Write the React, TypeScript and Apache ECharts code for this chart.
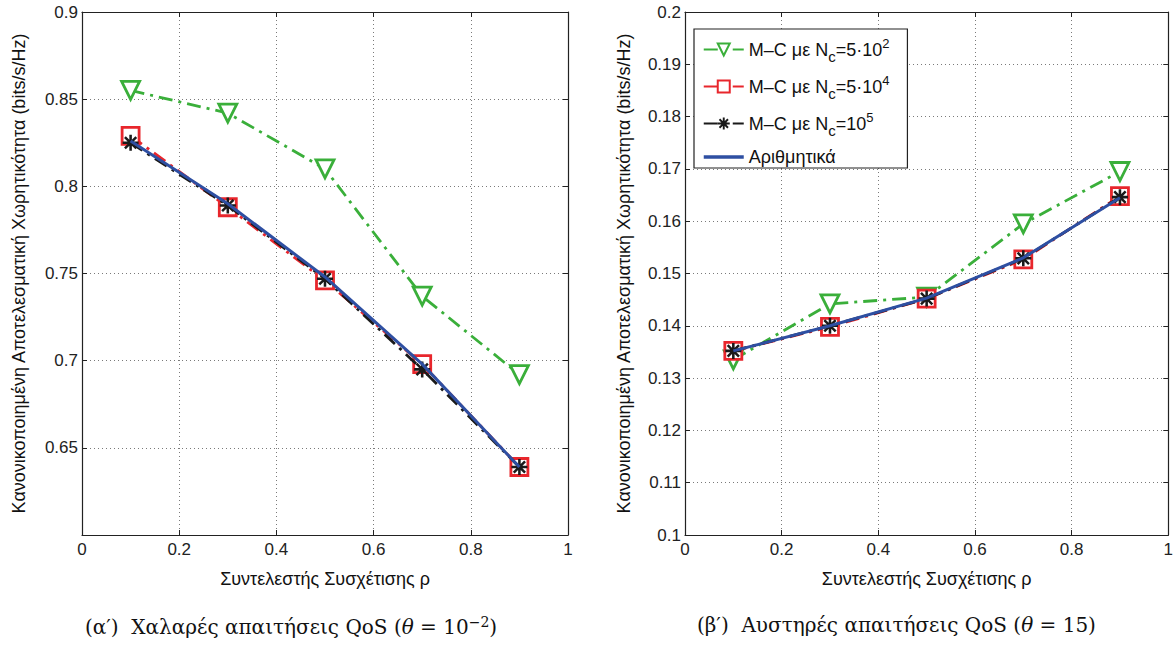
import React, { useEffect, useRef } from "react";
import * as echarts from "echarts";

const rho = [0.1, 0.3, 0.5, 0.7, 0.9];

// Left panel (θ = 10^-2)
const leftMC500 = [0.855, 0.842, 0.81, 0.737, 0.692];
const leftMC5e4 = [0.829, 0.788, 0.746, 0.698, 0.639];
const leftMC1e5 = [0.825, 0.789, 0.747, 0.695, 0.639];
const leftNum = [0.826, 0.790, 0.748, 0.698, 0.639];

// Right panel (θ = 15)
const rightMC500 = [0.1335, 0.1442, 0.1455, 0.1595, 0.1695];
const rightMC5e4 = [0.1352, 0.1398, 0.1452, 0.1527, 0.1648];
const rightMC1e5 = [0.1352, 0.1400, 0.1452, 0.1529, 0.1646];
const rightNum = [0.1352, 0.1400, 0.1453, 0.1530, 0.1645];

const NAMES = ["mc500", "mc5e4", "mc1e5", "num"];
const LEGEND_TEXT: Record<string, string> = {
  mc500: "M–C με N{sub|c}=5·10{sup|2}",
  mc5e4: "M–C με N{sub|c}=5·10{sup|4}",
  mc1e5: "M–C με N{sub|c}=10{sup|5}",
  num: "Αριθμητικά",
};

const GREEN = "#3aaf3a";
const RED = "#e8262c";
const BLACK = "#1a1a1a";
const BLUE = "#2e4fa2";
const FONT = "'Liberation Sans', Arial, sans-serif";
const SERIF = "'DejaVu Serif', 'Liberation Serif', serif";

const ASTERISK =
  "path://M-1 -0.16 L1 -0.16 L1 0.16 L-1 0.16 Z " +
  "M-0.16 -1 L0.16 -1 L0.16 1 L-0.16 1 Z " +
  "M-0.82 -0.6 L-0.6 -0.82 L0.82 0.6 L0.6 0.82 Z " +
  "M-0.6 0.82 L-0.82 0.6 L0.6 -0.82 L0.82 -0.6 Z";

const pairs = (ys: number[]) => rho.map((x, i) => [x, ys[i]]);

function makeSeries(xi: number, yi: number, d: number[][]) {
  const dash = [14, 6, 3, 6];
  return [
    {
      name: NAMES[0], type: "line", xAxisIndex: xi, yAxisIndex: yi, data: pairs(d[0]),
      symbol: "triangle", symbolRotate: 180, symbolSize: 18,
      lineStyle: { color: GREEN, width: 2.8, type: dash },
      itemStyle: { color: "#fff", borderColor: GREEN, borderWidth: 2.8 },
      z: 2,
    },
    {
      name: NAMES[1], type: "line", xAxisIndex: xi, yAxisIndex: yi, data: pairs(d[1]),
      symbol: "rect", symbolSize: 17,
      lineStyle: { color: RED, width: 2.8, type: dash },
      itemStyle: { color: "#fff", borderColor: RED, borderWidth: 2.8 },
      z: 3,
    },
    {
      name: NAMES[2], type: "line", xAxisIndex: xi, yAxisIndex: yi, data: pairs(d[2]),
      symbol: ASTERISK, symbolSize: 16,
      lineStyle: { color: BLACK, width: 2.8, type: dash },
      itemStyle: { color: BLACK, borderWidth: 0 },
      z: 4,
    },
    {
      name: NAMES[3], type: "line", xAxisIndex: xi, yAxisIndex: yi, data: pairs(d[3]),
      symbol: "none", showSymbol: false,
      lineStyle: { color: BLUE, width: 3 },
      itemStyle: { color: BLUE },
      z: 5,
    },
  ];
}

function xAxes(gi: number) {
  const common = {
    type: "value", gridIndex: gi, min: 0, max: 1, interval: 0.2,
    axisLine: { show: true, onZero: false, lineStyle: { color: "#222", width: 1.2 } },
    axisTick: { show: true, inside: true, length: 5, lineStyle: { color: "#222" } },
  };
  return [
    {
      ...common, position: "bottom",
      axisLabel: { color: "#222", fontFamily: FONT, fontSize: 17, margin: 6,
        formatter: (v: number) => String(+v.toFixed(1)) },
      splitLine: { show: true, lineStyle: { color: "#7a7a7a", type: [1, 3], width: 1 } },
      name: "Συντελεστής Συσχέτισης ρ", nameLocation: "middle", nameGap: 35,
      nameTextStyle: { color: "#111", fontFamily: FONT, fontSize: 18 },
    },
    { ...common, position: "top", axisLabel: { show: false }, splitLine: { show: false } },
  ];
}

function yAxes(gi: number, min: number, max: number, interval: number, hideMin: boolean, gap: number) {
  const common = {
    type: "value", gridIndex: gi, min, max, interval,
    axisLine: { show: true, onZero: false, lineStyle: { color: "#222", width: 1.2 } },
    axisTick: { show: true, inside: true, length: 5, lineStyle: { color: "#222" } },
  };
  return [
    {
      ...common, position: "left",
      axisLabel: { color: "#222", fontFamily: FONT, fontSize: 17, margin: 4,
        formatter: (v: number) => (hideMin && Math.abs(v - min) < 1e-9 ? "" : String(+v.toFixed(3))) },
      splitLine: { show: true, lineStyle: { color: "#7a7a7a", type: [1, 3], width: 1 } },
      name: "Κανονικοποιημένη Αποτελεσματική Χωρητικότητα (bits/s/Hz)",
      nameLocation: "middle", nameGap: gap, nameRotate: 90,
      nameTextStyle: { color: "#111", fontFamily: FONT, fontSize: 18 },
    },
    { ...common, position: "right", axisLabel: { show: false }, splitLine: { show: false } },
  ];
}

export default function App() {
  const ref = useRef<HTMLDivElement>(null);
  useEffect(() => {
    if (!ref.current) return;
    const chart = echarts.init(ref.current, undefined, { renderer: "svg" });
    const option: any = {
      animation: false,
      backgroundColor: "#fff",
      grid: [
        { left: 82, right: 608, top: 12, bottom: 111, containLabel: false },
        { left: 685, right: 6, top: 12, bottom: 111, containLabel: false },
      ],
      xAxis: [...xAxes(0), ...xAxes(1)],
      yAxis: [
        ...yAxes(0, 0.6, 0.9, 0.05, true, 54),
        ...yAxes(1, 0.1, 0.2, 0.01, false, 52),
      ],
      legend: {
        show: true,
        data: [
          { name: NAMES[0] },
          { name: NAMES[1] },
          { name: NAMES[2] },
          { name: NAMES[3], itemStyle: { opacity: 0 }, lineStyle: { width: 3.5 } },
        ],
        orient: "vertical",
        left: 694,
        top: 29,
        backgroundColor: "#fff",
        borderColor: "#222",
        borderWidth: 1.2,
        borderRadius: 0,
        padding: [8, 18, 2, 8],
        itemGap: 10,
        itemWidth: 40,
        itemHeight: 15,
        formatter: (n: string) => LEGEND_TEXT[n] || n,
        textStyle: {
          color: "#111", fontFamily: FONT, fontSize: 18,
          rich: {
            sub: { fontFamily: FONT, fontSize: 15, color: "#111", padding: [14, 0, 0, 0] },
            sup: { fontFamily: FONT, fontSize: 13, color: "#111", padding: [0, 0, 12, 0] },
          },
        },
      },
      series: [
        ...makeSeries(0, 0, [leftMC500, leftMC5e4, leftMC1e5, leftNum]),
        ...makeSeries(2, 2, [rightMC500, rightMC5e4, rightMC1e5, rightNum]),
      ],
      graphic: [
        {
          type: "text", left: 85, top: 615,
          style: {
            text: "(α′)  Χαλαρές απαιτήσεις QoS ({i|θ} = 10{sup|−2})",
            font: `20px ${SERIF}`, fill: "#111",
            rich: {
              i: { fontFamily: SERIF, fontSize: 20, fontStyle: "italic", fill: "#111" },
              sup: { fontFamily: SERIF, fontSize: 14, fill: "#111", padding: [0, 0, 10, 0] },
            },
          },
        },
        {
          type: "text", left: 697, top: 615,
          style: {
            text: "(β′)  Αυστηρές απαιτήσεις QoS ({i|θ} = 15)",
            font: `20px ${SERIF}`, fill: "#111",
            rich: {
              i: { fontFamily: SERIF, fontSize: 20, fontStyle: "italic", fill: "#111" },
            },
          },
        },
      ],
    };
    chart.setOption(option);
    return () => chart.dispose();
  }, []);
  return (
    <div
      ref={ref}
      style={{ position: "fixed", left: 0, top: 0, width: 1176, height: 646, background: "#fff" }}
    />
  );
}
